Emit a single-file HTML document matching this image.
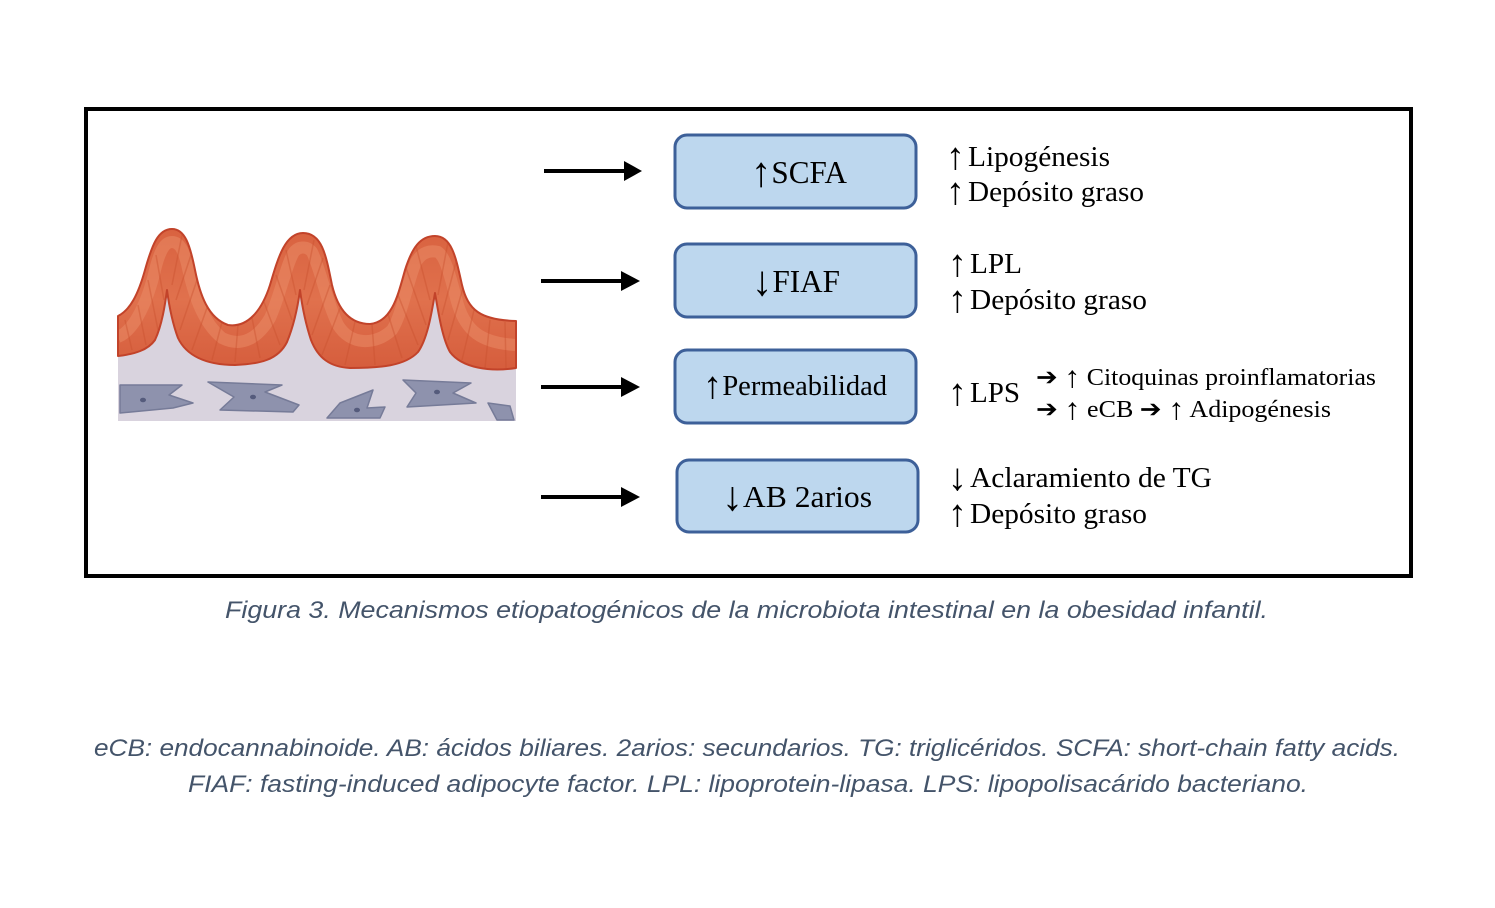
<!DOCTYPE html>
<html>
<head>
<meta charset="utf-8">
<style>
  html,body{margin:0;padding:0;background:#fff;}
  body{width:1495px;height:908px;overflow:hidden;}
  svg{display:block;}
  .serif{font-family:"Liberation Serif","DejaVu Serif",serif;fill:#000;}
  .cap{font-family:"Liberation Sans","DejaVu Sans",sans-serif;font-style:italic;fill:#44546a;}
</style>
</head>
<body>
<svg width="1495" height="908" viewBox="0 0 1495 908" xmlns="http://www.w3.org/2000/svg">
  <defs>
    <linearGradient id="redg" x1="0" y1="0" x2="0" y2="1">
      <stop offset="0" stop-color="#d8603e"/>
      <stop offset="0.5" stop-color="#e0714d"/>
      <stop offset="1" stop-color="#d45a3a"/>
    </linearGradient>
    <clipPath id="redclip">
      <path d="M118,316 C130,310 138,295 145,270 C152,245 158,229 172,229 C185,229 190,245 195,270 C200,295 208,318 228,325 C248,328 262,310 270,285 C278,258 285,233 303,233 C322,233 326,255 332,285 C338,310 350,324 370,324 C392,322 398,295 405,270 C412,248 420,236 435,236 C452,236 456,258 462,285 C468,310 480,320 516,321 L516,368 C490,372 462,368 450,352 C442,338 438,310 435,293 C432,310 428,338 418,352 C405,366 380,368 350,368 C330,367 318,358 311,340 C305,322 302,305 300,290 C298,305 294,325 287,342 C278,360 260,364 235,365 C205,365 186,355 178,338 C172,322 169,305 167,290 C165,305 162,325 155,340 C148,350 135,354 118,356 Z"/>
    </clipPath>
  </defs>

  <!-- Frame -->
  <rect x="86" y="109" width="1325" height="467" fill="#fff" stroke="#000" stroke-width="4"/>

  <!-- Intestine illustration -->
  <path d="M516,368 C490,372 462,368 450,352 C442,338 438,310 435,293 C432,310 428,338 418,352 C405,366 380,368 350,368 C330,367 318,358 311,340 C305,322 302,305 300,290 C298,305 294,325 287,342 C278,360 260,364 235,365 C205,365 186,355 178,338 C172,322 169,305 167,290 C165,305 162,325 155,340 C148,350 135,354 118,356 L118,421 L516,421 Z" fill="#d9d3de"/>
  <g clip-path="url(#redclip)">
    <rect x="110" y="220" width="420" height="160" fill="url(#redg)"/>
    <path d="M118,337 C135,330 148,300 155,270 C160,250 165,242 172,242 C180,242 184,252 187,264 C193,292 202,322 222,338 C242,348 258,338 270,318 C280,296 287,262 294,252 C299,246 307,246 312,252 C320,268 326,300 338,325 C350,345 375,346 392,330 C402,315 408,280 416,262 C422,252 430,250 438,252 C447,258 452,285 458,305 C466,330 480,343 516,345" fill="none" stroke="#e98a66" stroke-width="12" opacity="0.55"/>
    <g stroke="#c9502f" stroke-width="1.5" opacity="0.4">
      <line x1="125" y1="320" x2="132" y2="350"/><line x1="138" y1="305" x2="146" y2="345"/>
      <line x1="148" y1="280" x2="158" y2="330"/><line x1="156" y1="255" x2="164" y2="300"/>
      <line x1="182" y1="235" x2="172" y2="285"/><line x1="191" y1="255" x2="176" y2="300"/>
      <line x1="197" y1="280" x2="180" y2="330"/><line x1="208" y1="305" x2="192" y2="350"/>
      <line x1="222" y1="322" x2="212" y2="360"/><line x1="238" y1="325" x2="235" y2="362"/>
      <line x1="252" y1="318" x2="260" y2="358"/><line x1="264" y1="302" x2="280" y2="345"/>
      <line x1="276" y1="275" x2="292" y2="320"/><line x1="286" y1="250" x2="296" y2="295"/>
      <line x1="314" y1="240" x2="304" y2="290"/><line x1="323" y1="258" x2="307" y2="305"/>
      <line x1="330" y1="285" x2="312" y2="335"/><line x1="340" y1="308" x2="322" y2="355"/>
      <line x1="355" y1="322" x2="345" y2="365"/><line x1="372" y1="324" x2="375" y2="365"/>
      <line x1="388" y1="314" x2="402" y2="358"/><line x1="398" y1="295" x2="418" y2="345"/>
      <line x1="406" y1="268" x2="426" y2="325"/><line x1="416" y1="246" x2="430" y2="300"/>
      <line x1="448" y1="242" x2="438" y2="295"/><line x1="456" y1="262" x2="442" y2="315"/>
      <line x1="463" y1="288" x2="448" y2="340"/><line x1="474" y1="310" x2="462" y2="360"/>
      <line x1="490" y1="320" x2="485" y2="368"/><line x1="505" y1="322" x2="506" y2="368"/>
    </g>
  </g>
  <path d="M118,316 C130,310 138,295 145,270 C152,245 158,229 172,229 C185,229 190,245 195,270 C200,295 208,318 228,325 C248,328 262,310 270,285 C278,258 285,233 303,233 C322,233 326,255 332,285 C338,310 350,324 370,324 C392,322 398,295 405,270 C412,248 420,236 435,236 C452,236 456,258 462,285 C468,310 480,320 516,321 L516,368 C490,372 462,368 450,352 C442,338 438,310 435,293 C432,310 428,338 418,352 C405,366 380,368 350,368 C330,367 318,358 311,340 C305,322 302,305 300,290 C298,305 294,325 287,342 C278,360 260,364 235,365 C205,365 186,355 178,338 C172,322 169,305 167,290 C165,305 162,325 155,340 C148,350 135,354 118,356 Z" fill="none" stroke="#c2432a" stroke-width="2" stroke-linejoin="round"/>

  <!-- cells -->
  <g fill="#8e92ad" stroke="#767b98" stroke-width="1.5" stroke-linejoin="round">
    <polygon points="120,385 182,385 169,395 193,403 173,408 120,413"/>
    <polygon points="208,382 282,385 265,392 299,405 293,412 220,410 234,397"/>
    <polygon points="327,418 340,403 373,390 367,408 385,407 380,418"/>
    <polygon points="403,380 471,383 453,393 476,403 407,407 416,393"/>
    <polygon points="488,403 510,406 514,420 497,420"/>
  </g>
  <g fill="#555b7c">
    <ellipse cx="143" cy="400" rx="3" ry="2.3"/>
    <ellipse cx="253" cy="397" rx="3" ry="2.3"/>
    <ellipse cx="357" cy="410" rx="3" ry="2.3"/>
    <ellipse cx="437" cy="392" rx="3" ry="2.3"/>
  </g>

  <!-- Arrows -->
  <g fill="#000">
    <rect x="544" y="169" width="82" height="4"/>
    <polygon points="624,161 642,171 624,181"/>
    <rect x="541" y="279" width="82" height="4"/>
    <polygon points="621,271 640,281 621,291"/>
    <rect x="541" y="385" width="82" height="4"/>
    <polygon points="621,377 640,387 621,397"/>
    <rect x="541" y="495" width="82" height="4"/>
    <polygon points="621,487 640,497 621,507"/>
  </g>

  <!-- Boxes -->
  <g fill="#bdd7ee" stroke="#3d6099" stroke-width="3">
    <rect x="675" y="135" width="241" height="73" rx="12" ry="12"/>
    <rect x="675" y="244" width="241" height="73" rx="12" ry="12"/>
    <rect x="675" y="350" width="241" height="73" rx="12" ry="12"/>
    <rect x="677" y="460" width="241" height="72" rx="12" ry="12"/>
  </g>

  <!-- Box labels -->
  <text class="serif" x="751" y="183" font-size="32" textLength="96" lengthAdjust="spacingAndGlyphs"><tspan font-size="42" dy="3">↑</tspan><tspan dy="-3">SCFA</tspan></text>
  <text class="serif" x="752" y="292" font-size="32" textLength="88" lengthAdjust="spacingAndGlyphs"><tspan font-size="42" dy="3">↓</tspan><tspan dy="-3">FIAF</tspan></text>
  <text class="serif" x="703" y="395" font-size="28" textLength="184" lengthAdjust="spacingAndGlyphs"><tspan font-size="38" dy="3">↑</tspan><tspan dy="-3">Permeabilidad</tspan></text>
  <text class="serif" x="722" y="507" font-size="31" textLength="150" lengthAdjust="spacingAndGlyphs"><tspan font-size="41" dy="3">↓</tspan><tspan dy="-3">AB 2arios</tspan></text>

  <!-- Right texts -->
  <text class="serif" x="946" y="169" font-size="38">↑</text>
  <text class="serif" x="968" y="166" font-size="28" textLength="142" lengthAdjust="spacingAndGlyphs">Lipogénesis</text>
  <text class="serif" x="946" y="204" font-size="38">↑</text>
  <text class="serif" x="968" y="201" font-size="28" textLength="176" lengthAdjust="spacingAndGlyphs">Depósito graso</text>

  <text class="serif" x="948" y="276" font-size="38">↑</text>
  <text class="serif" x="970" y="273" font-size="28" textLength="52" lengthAdjust="spacingAndGlyphs">LPL</text>
  <text class="serif" x="948" y="312" font-size="38">↑</text>
  <text class="serif" x="970" y="309" font-size="28" textLength="177" lengthAdjust="spacingAndGlyphs">Depósito graso</text>

  <text class="serif" x="948" y="405" font-size="38">↑</text>
  <text class="serif" x="970" y="402" font-size="28" textLength="50" lengthAdjust="spacingAndGlyphs">LPS</text>
  <text class="serif" x="1036" y="385" font-size="24" textLength="340" lengthAdjust="spacingAndGlyphs">➔ <tspan font-size="30" dy="2">↑</tspan><tspan dy="-2"> Citoquinas proinflamatorias</tspan></text>
  <text class="serif" x="1036" y="417" font-size="24" textLength="295" lengthAdjust="spacingAndGlyphs">➔ <tspan font-size="30" dy="2">↑</tspan><tspan dy="-2"> eCB ➔ </tspan><tspan font-size="30" dy="2">↑</tspan><tspan dy="-2"> Adipogénesis</tspan></text>

  <text class="serif" x="948" y="490" font-size="38">↓</text>
  <text class="serif" x="970" y="487" font-size="28" textLength="242" lengthAdjust="spacingAndGlyphs">Aclaramiento de TG</text>
  <text class="serif" x="948" y="526" font-size="38">↑</text>
  <text class="serif" x="970" y="523" font-size="28" textLength="177" lengthAdjust="spacingAndGlyphs">Depósito graso</text>

  <!-- Caption -->
  <text class="cap" x="225" y="618" font-size="24" textLength="1043" lengthAdjust="spacingAndGlyphs">Figura 3. Mecanismos etiopatogénicos de la microbiota intestinal en la obesidad infantil.</text>

  <!-- Footnotes -->
  <text class="cap" x="94" y="756" font-size="24" textLength="1306" lengthAdjust="spacingAndGlyphs">eCB: endocannabinoide. AB: ácidos biliares. 2arios: secundarios. TG: triglicéridos. SCFA: short-chain fatty acids.</text>
  <text class="cap" x="188" y="792" font-size="24" textLength="1120" lengthAdjust="spacingAndGlyphs">FIAF: fasting-induced adipocyte factor. LPL: lipoprotein-lipasa. LPS: lipopolisacárido bacteriano.</text>
</svg>
</body>
</html>
